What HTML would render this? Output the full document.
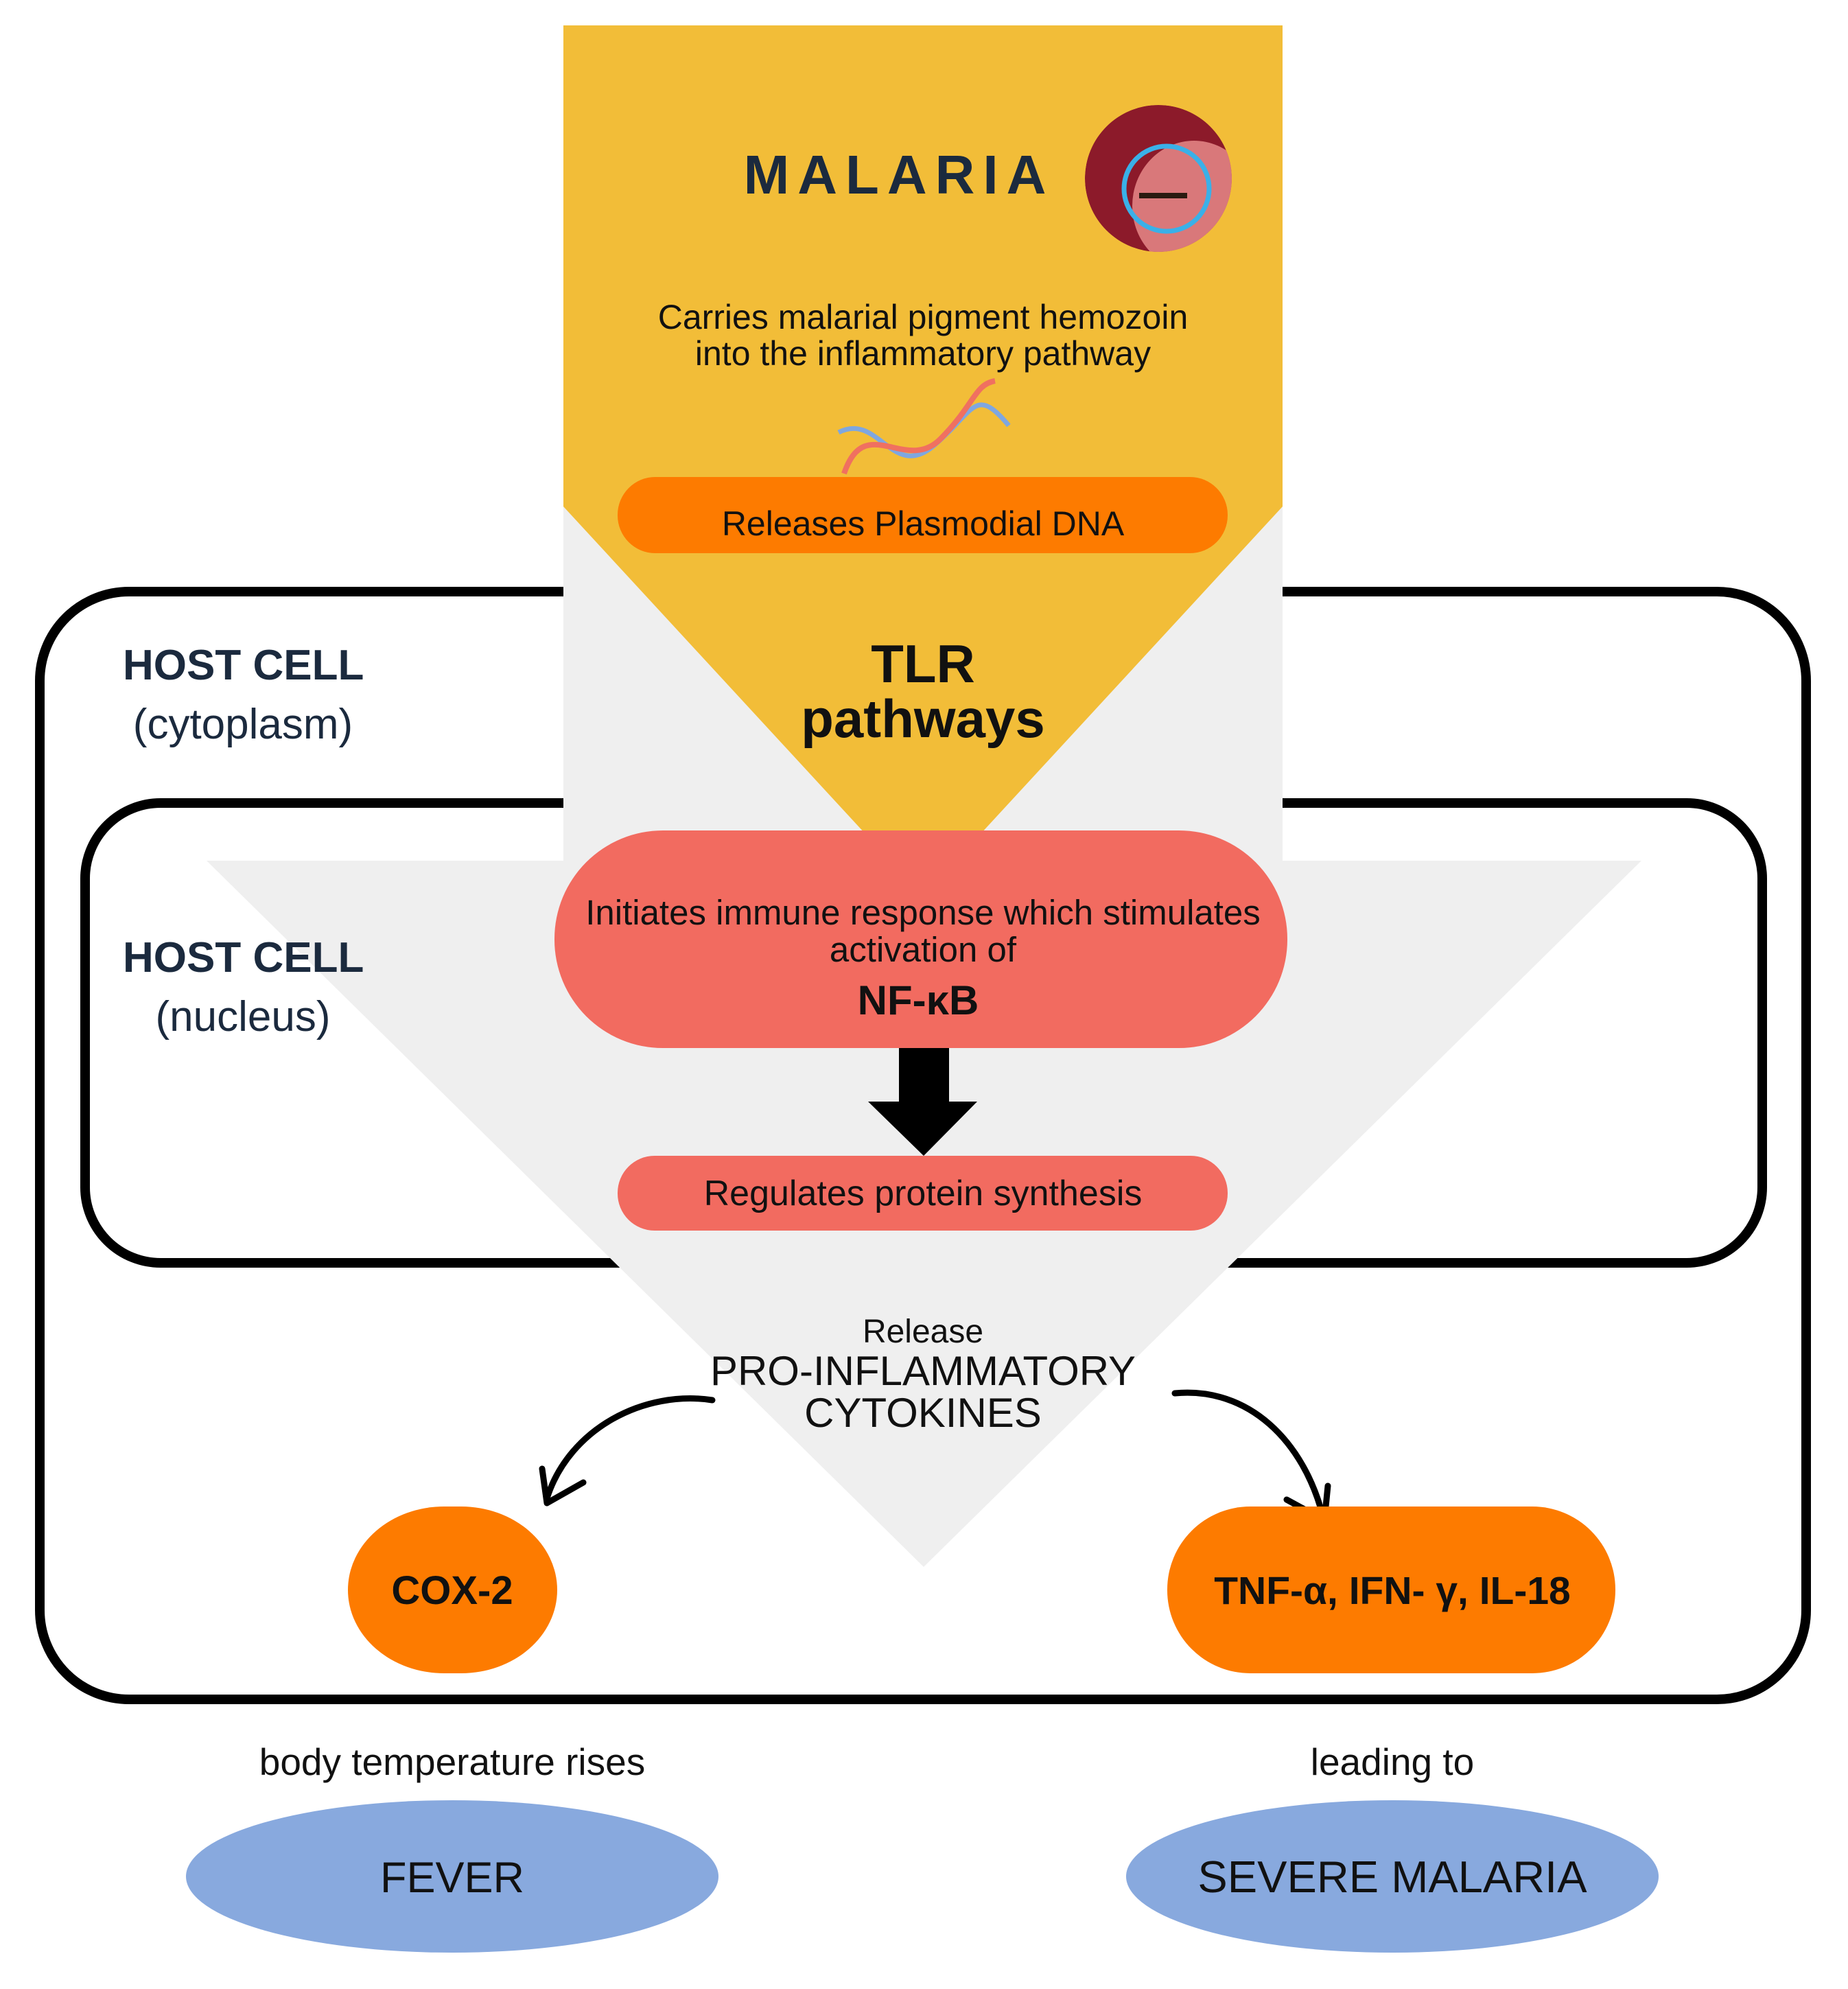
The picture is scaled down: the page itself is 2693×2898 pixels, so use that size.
<!DOCTYPE html>
<html><head><meta charset="utf-8"><style>
html,body{margin:0;padding:0;background:#fff}
svg{display:block}
text{font-family:"Liberation Sans",sans-serif}
</style></head><body>
<svg width="2693" height="2898" viewBox="0 0 2693 2898" xmlns="http://www.w3.org/2000/svg">
<defs><clipPath id="cc"><circle cx="1688" cy="260" r="107"/></clipPath></defs>
<rect width="2693" height="2898" fill="#fff"/>
<rect x="58" y="862" width="2574" height="1614" rx="130" fill="none" stroke="#000" stroke-width="14"/>
<rect x="124" y="1170" width="2444" height="670" rx="110" fill="none" stroke="#000" stroke-width="14"/>
<rect x="821" y="738" width="1048" height="520" fill="#efefef"/>
<polygon points="301,1254 2392,1254 1346,2283" fill="#efefef"/>
<polygon points="821,37 1869,37 1869,738 1345,1306 821,738" fill="#f2bd38"/>
<text x="1310" y="282" font-size="80" font-weight="bold" fill="#1b2a3e" text-anchor="middle" letter-spacing="12">MALARIA</text>
<g clip-path="url(#cc)">
<circle cx="1688" cy="260" r="107" fill="#8c1a2a"/>
<ellipse cx="1740" cy="300" rx="90" ry="95" fill="#d9787a"/>
<line x1="1660" y1="285" x2="1730" y2="285" stroke="#2a1a10" stroke-width="8"/>
</g>
<circle cx="1700" cy="275" r="62" fill="none" stroke="#3ab0e8" stroke-width="7"/>
<text x="1345" y="479" font-size="50" fill="#111" text-anchor="middle">Carries malarial pigment hemozoin</text>
<text x="1345" y="532" font-size="50" fill="#111" text-anchor="middle">into the inflammatory pathway</text>
<path d="M1222,630 C1280,600 1300,700 1360,650 S1420,560 1470,620" fill="none" stroke="#7fa7e0" stroke-width="7"/>
<path d="M1230,690 C1260,600 1320,690 1370,640 S1420,560 1450,555" fill="none" stroke="#f07060" stroke-width="8"/>
<rect x="900" y="695" width="889" height="111" rx="55" fill="#fd7b00"/>
<text x="1345" y="780" font-size="50" fill="#111" text-anchor="middle">Releases Plasmodial DNA</text>
<text x="1345" y="994" font-size="78" font-weight="bold" fill="#111" text-anchor="middle">TLR</text>
<text x="1345" y="1074" font-size="78" font-weight="bold" fill="#111" text-anchor="middle">pathways</text>
<text x="179" y="990" font-size="62" font-weight="bold" fill="#1b2a3e">HOST CELL</text>
<text x="354" y="1076" font-size="62" fill="#1b2a3e" text-anchor="middle">(cytoplasm)</text>
<text x="179" y="1416" font-size="62" font-weight="bold" fill="#1b2a3e">HOST CELL</text>
<text x="354" y="1502" font-size="62" fill="#1b2a3e" text-anchor="middle">(nucleus)</text>
<rect x="808" y="1210" width="1068" height="317" rx="158" fill="#f26b60"/>
<text x="1345" y="1347" font-size="51" fill="#111" text-anchor="middle">Initiates immune response which stimulates</text>
<text x="1345" y="1401" font-size="51" fill="#111" text-anchor="middle">activation of</text>
<text x="1338" y="1478" font-size="60" font-weight="bold" fill="#111" text-anchor="middle">NF-κB</text>
<polygon points="1310,1527 1383,1527 1383,1605 1424,1605 1346,1684 1265,1605 1310,1605" fill="#000"/>
<rect x="900" y="1684" width="889" height="109" rx="54" fill="#f26b60"/>
<text x="1345" y="1756" font-size="52" fill="#111" text-anchor="middle">Regulates protein synthesis</text>
<text x="1345" y="1956" font-size="48" fill="#111" text-anchor="middle">Release</text>
<text x="1345" y="2018" font-size="60" fill="#111" text-anchor="middle">PRO-INFLAMMATORY</text>
<text x="1345" y="2079" font-size="60" fill="#111" text-anchor="middle">CYTOKINES</text>
<path d="M1038,2040 C940,2025 830,2080 797,2183" fill="none" stroke="#000" stroke-width="9" stroke-linecap="round"/>
<path d="M797,2190 L790,2140 M797,2190 L850,2160" fill="none" stroke="#000" stroke-width="9" stroke-linecap="round"/>
<path d="M1712,2030 C1820,2020 1900,2100 1928,2210" fill="none" stroke="#000" stroke-width="9" stroke-linecap="round"/>
<path d="M1930,2215 L1935,2165 M1930,2215 L1875,2185" fill="none" stroke="#000" stroke-width="9" stroke-linecap="round"/>
<rect x="507" y="2195" width="305" height="243" rx="140" fill="#fd7b00"/>
<text x="659" y="2337" font-size="58" font-weight="bold" fill="#111" text-anchor="middle">COX-2</text>
<rect x="1701" y="2195" width="653" height="243" rx="121" fill="#fd7b00"/>
<text x="2029" y="2337" font-size="57" font-weight="bold" fill="#111" text-anchor="middle">TNF-α, IFN- γ, IL-18</text>
<text x="659" y="2586" font-size="55" fill="#111" text-anchor="middle">body temperature rises</text>
<text x="2029" y="2586" font-size="55" fill="#111" text-anchor="middle">leading to</text>
<ellipse cx="659" cy="2734" rx="388" ry="111" fill="#88a9de"/>
<text x="659" y="2757" font-size="63" fill="#111" text-anchor="middle">FEVER</text>
<ellipse cx="2029" cy="2734" rx="388" ry="111" fill="#88a9de"/>
<text x="2029" y="2757" font-size="65" fill="#111" text-anchor="middle">SEVERE MALARIA</text>
</svg>
</body></html>
